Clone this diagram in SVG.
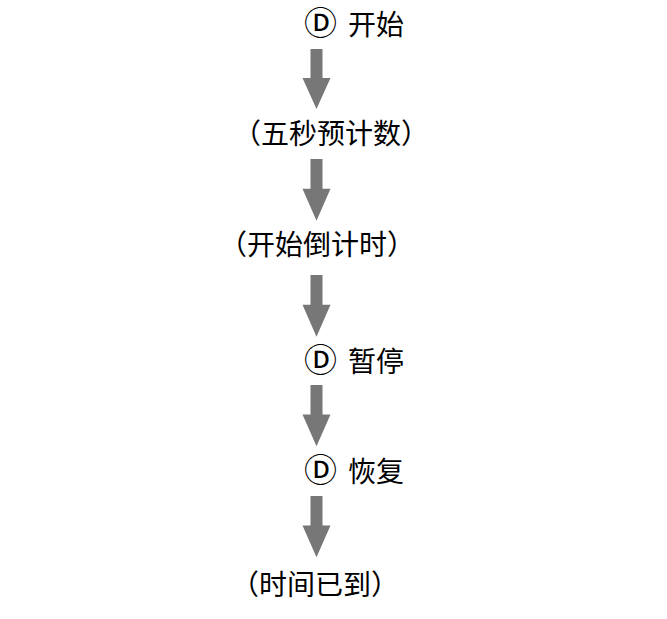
<svg xmlns="http://www.w3.org/2000/svg" width="667" height="619" viewBox="0 0 667 619">
<defs>
<style>
.t{font-family:"Noto Sans CJK SC","Noto Sans",sans-serif;font-size:28px;fill:#000}
.d{font-family:"DejaVu Sans","Noto Sans CJK SC",sans-serif;font-size:33px}
.a{fill:#777777}
</style>
<path id="arr" d="M-6,0 H6 V29 H14 L0,60 L-14,29 H-6 Z"/>
</defs>
<rect width="667" height="619" fill="#ffffff"/>
<g id="connectors" class="a">
<use href="#arr" transform="translate(316.5,49)"/>
<use href="#arr" transform="translate(316.5,159) scale(1,1.03)"/>
<use href="#arr" transform="translate(316.5,275) scale(1,1.03)"/>
<use href="#arr" transform="translate(316.5,385) scale(1,1.02)"/>
<use href="#arr" transform="translate(316.5,496) scale(1,1.02)"/>
</g>
<g id="n1"><text class="t" y="35"><tspan class="d" x="304">Ⓓ</tspan><tspan x="348">开始</tspan></text></g>
<g id="n2"><text class="t" x="233" y="144">（五秒预计数）</text></g>
<g id="n3"><text class="t" x="219" y="255">（开始倒计时）</text></g>
<g id="n4"><text class="t" y="372"><tspan class="d" x="304">Ⓓ</tspan><tspan x="348">暂停</tspan></text></g>
<g id="n5"><text class="t" y="482"><tspan class="d" x="304">Ⓓ</tspan><tspan x="348">恢复</tspan></text></g>
<g id="n6"><text class="t" x="231" y="595">（时间已到）</text></g>
</svg>
